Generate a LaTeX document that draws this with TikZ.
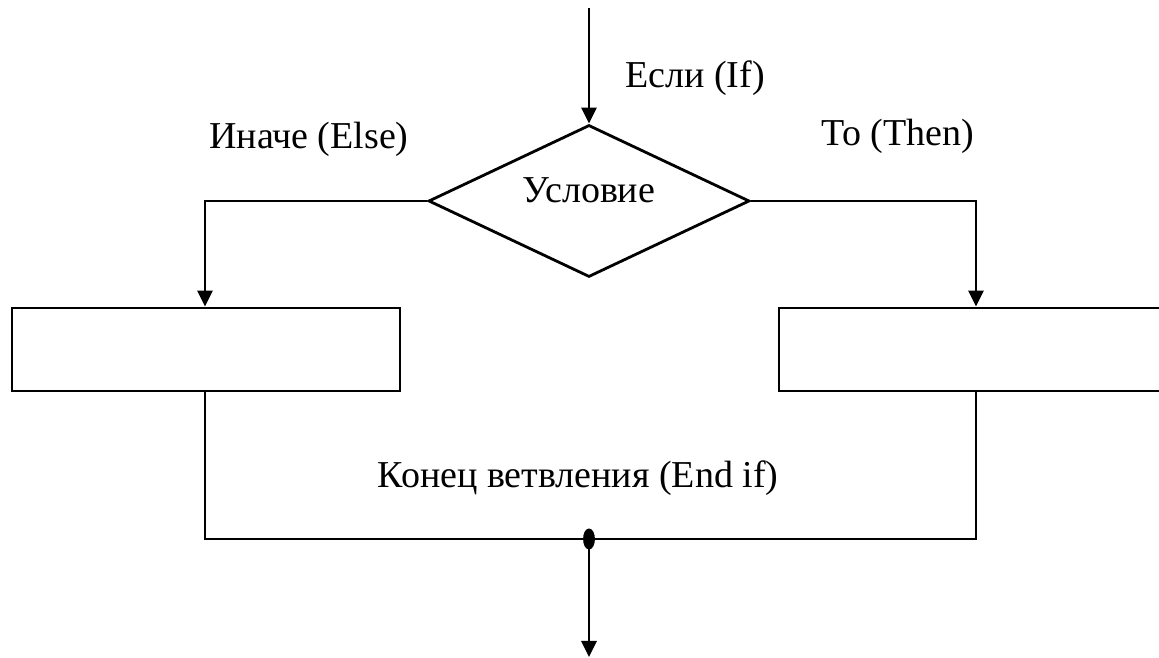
\documentclass[tikz,border=0pt]{standalone}
\usepackage{fontspec}
\setmainfont{Liberation Serif}
\usetikzlibrary{positioning, shapes.geometric, arrows.meta}

\begin{document}
\begin{tikzpicture}[
                x=0.5pt, y=0.5pt,
                font=\fontsize{19}{22}\selectfont,
                >={Triangle[length=8pt, width=7.5pt]},
                line width=1.4pt,
                every edge/.style={draw, line width=1.4pt},
                decision/.style={draw, diamond, aspect=2.1, minimum width=160.5pt, minimum height=76pt, inner sep=0pt, text depth=11pt},
                action/.style={draw, rectangle, minimum width=194pt, minimum height=41.5pt, inner sep=0pt},
                note/.style={anchor=base, inner sep=0pt},
                joint/.style={draw, fill, ellipse, minimum width=4.5pt, minimum height=9pt, inner sep=0pt}]

    \useasboundingbox (0,0) rectangle (1159,657);
    \clip (0,0) rectangle (1159,657);

    %%% NODES
    \coordinate (start) at (589,649);
    \node [decision] (condition) at (589,456) {Условие};
    \coordinate (elsecorner) at (205,456);
    \coordinate (thencorner) at (976,456);
    \node [action] (elsebox) at (206,307.5) {};
    \node [action] (thenbox) at (973,307.5) {};
    \node [joint] (merge) at (589,118) {};
    \coordinate (finish) at (589,0);

    %%% LABELS
    \node [note] (iflabel) at (695,569) {Если (If)};
    \node [note] (elselabel) at (309,508) {Иначе (Else)};
    \node [note] (thenlabel) at (898,511) {То (Then)};
    \node [note] (endlabel) at (578,169) {Конец ветвления (End if)};

    %%% CONNECTIONS
    \path (start) edge [->] (condition.north);
    \draw [->] (condition.west) -- (elsecorner) -- (elsecorner |- elsebox.north);
    \draw [->] (condition.east) -- (thencorner) -- (thencorner |- thenbox.north);
    \draw (elsecorner |- elsebox.south) -- (elsecorner |- merge) -- (thencorner |- merge) -- (thencorner |- thenbox.south);
    \path (merge) edge [->] (finish);

\end{tikzpicture}
\end{document}
